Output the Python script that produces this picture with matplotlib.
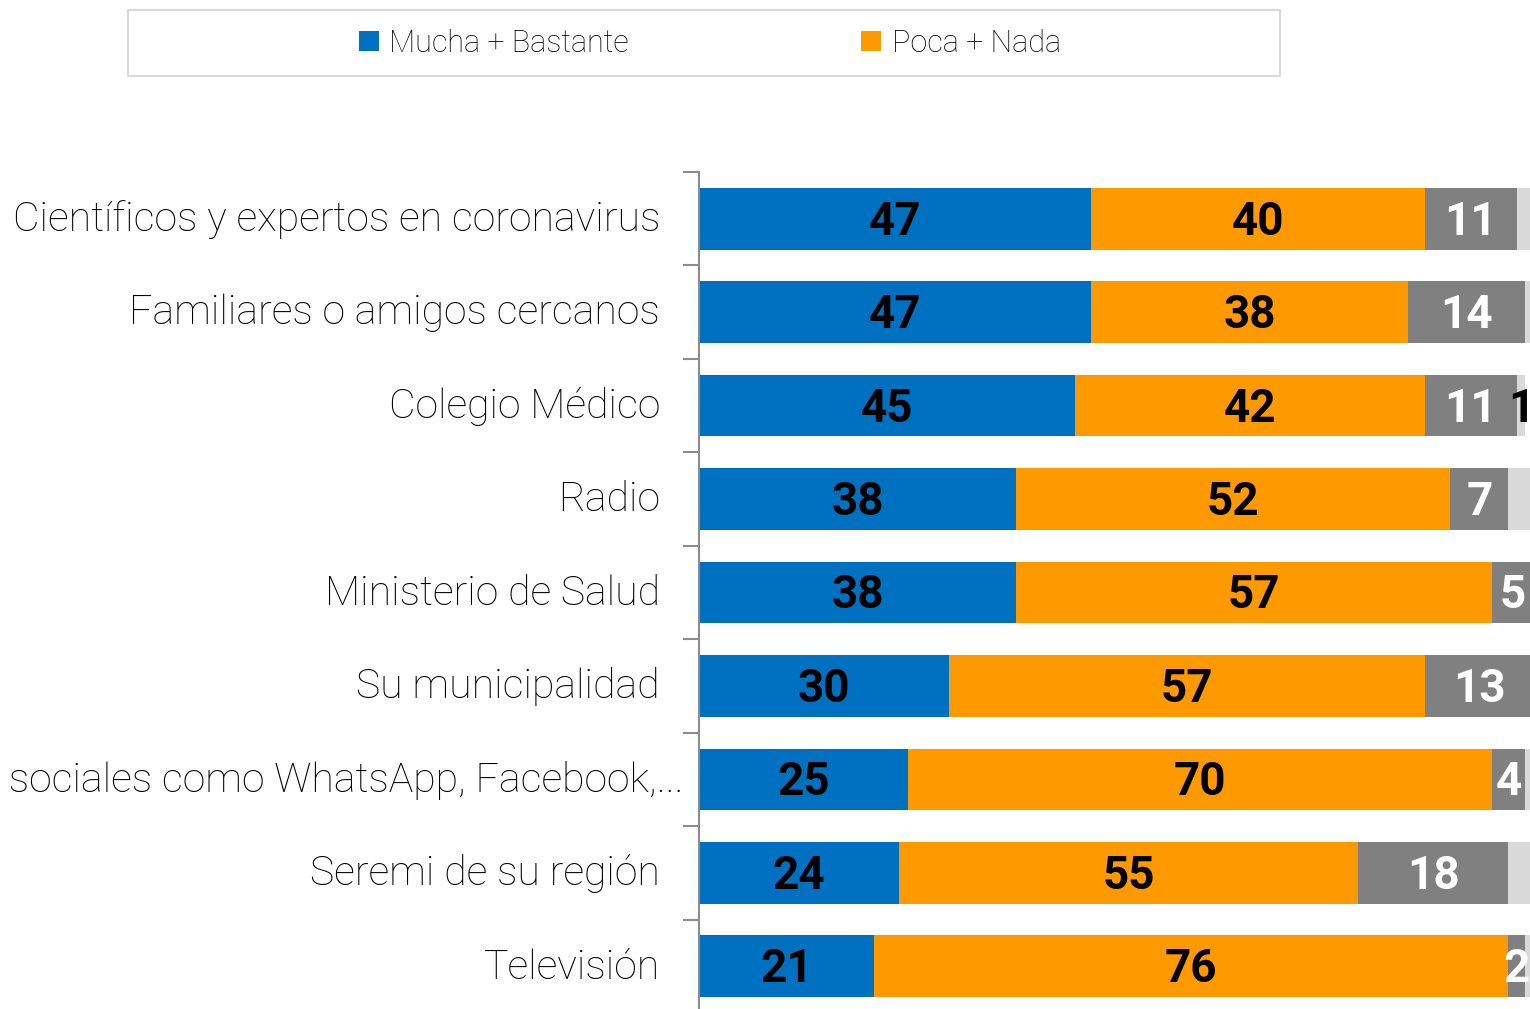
import matplotlib
matplotlib.use("Agg")
import matplotlib.pyplot as plt
from matplotlib.patches import Rectangle, Patch
from matplotlib.ticker import FixedLocator
from matplotlib.transforms import ScaledTranslation

categories = [
    "Científicos y expertos en coronavirus",
    "Familiares o amigos cercanos",
    "Colegio Médico",
    "Radio",
    "Ministerio de Salud",
    "Su municipalidad",
    "Redes sociales como WhatsApp, Facebook,...",
    "Seremi de su región",
    "Televisión",
]
mucha_bastante = [47, 47, 45, 38, 38, 30, 25, 24, 21]
poca_nada = [40, 38, 42, 52, 57, 57, 70, 55, 76]
otro = [11, 14, 11, 7, 5, 13, 4, 18, 2]
ns_nr = [2, 1, 1, 3, 0, 0, 1, 3, 1]
ns_nr_label_shown = [False, False, True, False, False, False, False, False, False]

series_names = ["Mucha + Bastante", "Poca + Nada"]
colors = ["#0070C0", "#FF9900", "#808080", "#D9D9D9"]
label_colors = ["black", "black", "white", "black"]

FONT = "Roboto"

fig = plt.figure(figsize=(15.3, 10.09), dpi=100)
W, H = 1530, 1009
ax_left = 699 / W
px_per_unit = 8.345
xmax = (W - 699) / px_per_unit
ax = fig.add_axes([ax_left, (H - 1013) / H, 1 - ax_left, 841 / H])

down = ScaledTranslation(0, -3 / 100, fig.dpi_scale_trans)

y = list(range(len(categories)))
series = [mucha_bastante, poca_nada, otro, ns_nr]
left = [0] * len(categories)
for si, vals in enumerate(series):
    ax.barh(y, vals, left=left, height=0.66, color=colors[si], edgecolor="none")
    for i, v in enumerate(vals):
        show = v > 0 and (si < 3 or ns_nr_label_shown[i])
        if show:
            ax.text(left[i] + v / 2, i, str(v), ha="center", va="center",
                    fontsize=33, fontweight="bold", family=FONT,
                    color=label_colors[si], clip_on=False,
                    transform=ax.transData + down)
    left = [l + v for l, v in zip(left, vals)]

ax.set_xlim(0, xmax)
ax.set_ylim(len(categories) - 0.5, -0.5)
for s in ["top", "right", "bottom"]:
    ax.spines[s].set_visible(False)
ax.spines["left"].set_color("#8c8c8c")
ax.spines["left"].set_linewidth(1.5)
ax.set_xticks([])
ax.set_yticks(y)
ax.set_yticklabels(categories, fontsize=29.5, family=FONT, fontweight="light", color="black")
ax.tick_params(axis="y", which="major", length=0, pad=28)
ax.yaxis.set_minor_locator(FixedLocator([i - 0.5 for i in range(len(categories) + 1)]))
ax.tick_params(axis="y", which="minor", length=11.5, width=1.5, color="#8c8c8c")

# shift category labels slightly up; long label overflows to the right in the reference
for k, lbl in enumerate(ax.get_yticklabels()):
    dx = 23 / 100 if k == 6 else 0
    lbl.set_transform(lbl.get_transform() + ScaledTranslation(dx, 3 / 100, fig.dpi_scale_trans))

# legend box
fig.patches.append(Rectangle((128 / W, 1 - 76 / H), 1152 / W, 66 / H,
                             transform=fig.transFigure, facecolor="white",
                             edgecolor="#d9d9d9", linewidth=1.5))
handles = [Patch(facecolor=colors[0]), Patch(facecolor=colors[1])]
fig.legend(handles, series_names, loc="center", bbox_to_anchor=(710 / W, 1 - 43 / H),
           ncol=2, frameon=False, prop={"family": FONT, "weight": "light", "size": 22},
           handlelength=0.65, handleheight=0.65, handletextpad=0.35, columnspacing=7.6)

fig.savefig("out.png", dpi=100)
